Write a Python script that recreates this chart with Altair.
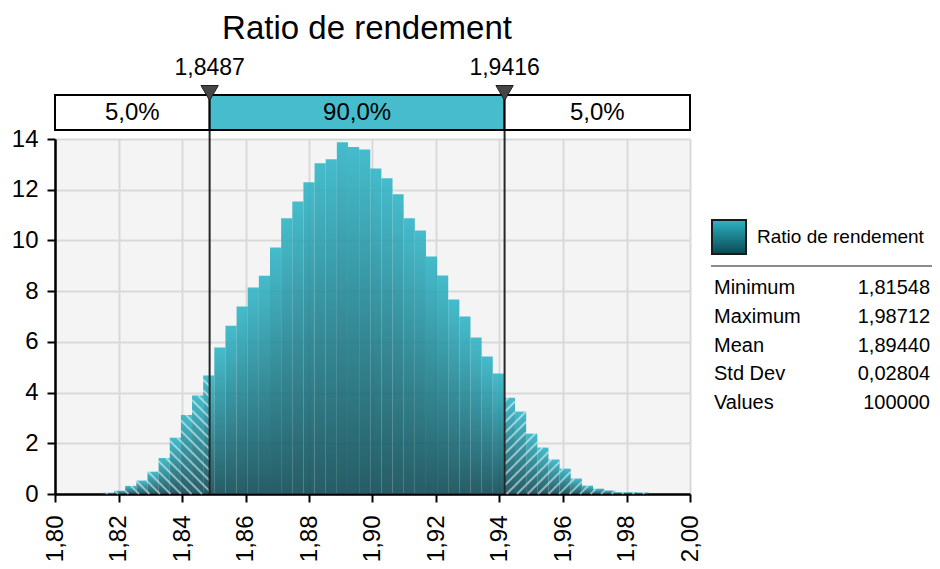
import altair as alt
import pandas as pd

# ---------------- data ----------------
title_text = "Ratio de rendement"
x_domain = [1.80, 2.00]
y_domain = [0, 14]
x_ticks = [1.80, 1.82, 1.84, 1.86, 1.88, 1.90, 1.92, 1.94, 1.96, 1.98, 2.00]
y_ticks = [0, 2, 4, 6, 8, 10, 12, 14]

bin_start = 1.8151
bin_width = 0.003508
heights = [0.05, 0.13, 0.32, 0.53, 0.88, 1.42, 2.22, 3.12, 3.88, 4.67,
           5.78, 6.64, 7.39, 8.14, 8.61, 9.72, 10.87, 11.54, 12.29, 13.04,
           13.20, 13.87, 13.68, 13.59, 12.84, 12.45, 11.82, 10.87, 10.39, 9.37,
           8.62, 7.67, 7.00, 6.17, 5.42, 4.75, 3.80, 3.25, 2.38, 1.83,
           1.36, 1.00, 0.61, 0.33, 0.21, 0.14, 0.07, 0.07, 0.06]

p_low = 1.8487
p_high = 1.9416
band_labels = ["5,0%", "90,0%", "5,0%"]

legend_label = "Ratio de rendement"
stat_names = ["Minimum", "Maximum", "Mean", "Std Dev", "Values"]
stat_values = ["1,81548", "1,98712", "1,89440", "0,02804", "100000"]

# ---------------- layout constants ----------------
W, H = 635, 355
FONT = "Liberation Sans"
px_x = W / (x_domain[1] - x_domain[0])
px_y = H / (y_domain[1] - y_domain[0])

bars = pd.DataFrame({
    "start": [bin_start + i * bin_width for i in range(len(heights))],
    "end": [bin_start + (i + 1) * bin_width for i in range(len(heights))],
    "h": heights,
    "zero": [0.0] * len(heights),
})

# hatch segments for the two 5% tails (derived from the bars)
def hatch(x_lo, x_hi, direction, spacing=10.5):
    segs = []
    for s, e, h in zip(bars["start"], bars["end"], bars["h"]):
        a, b = max(s, x_lo), min(e, x_hi)
        if a >= b:
            continue
        Xa, Xb, Hh = (a - x_domain[0]) * px_x, (b - x_domain[0]) * px_x, h * px_y
        k = -100
        while k < 200:
            c = k * spacing
            k += 1
            if direction == "back":
                lo, hi = max(Xa, c - Hh), min(Xb, c)
                if hi - lo > 0.5:
                    segs.append((lo, c - lo, hi, c - hi))
            else:
                lo, hi = max(Xa, c), min(Xb, c + Hh)
                if hi - lo > 0.5:
                    segs.append((lo, lo - c, hi, hi - c))
    return segs

segs = hatch(x_domain[0], p_low, "back") + hatch(p_high, x_domain[1], "fwd")
hatch_df = pd.DataFrame({
    "x1": [x_domain[0] + s[0] / px_x for s in segs],
    "y1": [s[1] / px_y for s in segs],
    "x2": [x_domain[0] + s[2] / px_x for s in segs],
    "y2": [s[3] / px_y for s in segs],
})

band_df = pd.DataFrame({
    "start": [x_domain[0], p_low, p_high],
    "end": [p_low, p_high, x_domain[1]],
    "mid": [(x_domain[0] + p_low) / 2, (p_low + p_high) / 2, (p_high + x_domain[1]) / 2],
    "label": band_labels,
    "fill": ["white", "#46bccc", "white"],
})

pct_df = pd.DataFrame({
    "p": [p_low, p_high],
    "label": [f"{p_low:.4f}".replace(".", ","), f"{p_high:.4f}".replace(".", ",")],
})

stats_df = pd.DataFrame({
    "row": list(range(len(stat_names))),
    "name": stat_names,
    "value": stat_values,
})

grad = alt.Gradient(
    gradient="linear",
    stops=[alt.GradientStop(offset=0, color="#2db4c6"),
           alt.GradientStop(offset=1, color="#0a4852")],
    x1=0, x2=0, y1=0, y2=1,
)

xscale = alt.Scale(domain=x_domain, nice=False, zero=False)
yscale = alt.Scale(domain=y_domain, nice=False)
xaxis = alt.Axis(values=x_ticks, title=None, labelAngle=270,
                 labelAlign="right", labelBaseline="middle",
                 labelExpr="replace(format(datum.value, '.2f'), '.', ',')",
                 labelFontSize=24, labelPadding=13, tickSize=8, grid=True)


def xenc(field):
    return alt.X(field, scale=xscale, axis=xaxis)


# ---------------- layers ----------------
bar_layer = alt.Chart(bars).mark_rect(fill=grad, fillOpacity=0.88).encode(
    x=xenc("start:Q"),
    x2="end:Q",
    y=alt.Y("h:Q", scale=yscale,
            axis=alt.Axis(values=y_ticks, title=None, format="d",
                          labelFontSize=24, labelPadding=9, tickSize=8)),
    y2="zero:Q",
)

hatch_layer = alt.Chart(hatch_df).mark_rule(color="white", strokeWidth=2, opacity=0.5).encode(
    x=xenc("x1:Q"),
    x2="x2:Q",
    y=alt.Y("y1:Q", scale=yscale, axis=None),
    y2="y2:Q",
)

band_rect = alt.Chart(band_df).mark_rect(stroke="black", strokeWidth=2).encode(
    x=xenc("start:Q"),
    x2="end:Q",
    y=alt.value(-44),
    y2=alt.value(-9),
    fill=alt.Fill("fill:N", scale=None),
)

band_text = alt.Chart(band_df).mark_text(fontSize=24, font=FONT, color="black",
                                         baseline="middle", align="center").encode(
    x=xenc("mid:Q"),
    y=alt.value(-26),
    text="label:N",
)

pct_rule = alt.Chart(pct_df).mark_rule(color="#262626", strokeWidth=2).encode(
    x=xenc("p:Q"),
    y=alt.value(-44),
    y2=alt.value(H),
)

pct_tri = alt.Chart(pct_df).mark_point(shape="triangle-down", filled=True, size=300,
                                       fill="#464646", stroke="#1e1e1e", strokeWidth=1,
                                       opacity=1).encode(
    x=xenc("p:Q"),
    y=alt.value(-46),
)

pct_text = alt.Chart(pct_df).mark_text(fontSize=23, font=FONT, color="black",
                                       baseline="middle", align="center").encode(
    x=xenc("p:Q"),
    y=alt.value(-71),
    text="label:N",
)

title_layer = alt.Chart(pd.DataFrame({"t": [title_text]})).mark_text(
    fontSize=33, font=FONT, color="black", baseline="middle", align="center").encode(
    x=alt.value(312), y=alt.value(-110), text="t:N")

legend_box = alt.Chart(pd.DataFrame({"t": [legend_label]})).mark_rect(
    fill=grad, stroke="#1a1a1a", strokeWidth=2).encode(
    x=alt.value(657), x2=alt.value(691), y=alt.value(81), y2=alt.value(115))

legend_text = alt.Chart(pd.DataFrame({"t": [legend_label]})).mark_text(
    fontSize=19, font=FONT, color="black", baseline="middle", align="left").encode(
    x=alt.value(702), y=alt.value(98), text="t:N")

legend_sep = alt.Chart(pd.DataFrame({"t": [legend_label]})).mark_rule(
    color="#8c8c8c", strokeWidth=2).encode(
    x=alt.value(656), x2=alt.value(877), y=alt.value(127))

stat_y = alt.Y("row:Q", scale=alt.Scale(domain=[0, 4], range=[149, 264]), axis=None)
stat_names_layer = alt.Chart(stats_df).mark_text(
    fontSize=20, font=FONT, color="black", baseline="middle", align="left").encode(
    x=alt.value(659), y=stat_y, text="name:N")
stat_values_layer = alt.Chart(stats_df).mark_text(
    fontSize=20, font=FONT, color="black", baseline="middle", align="right").encode(
    x=alt.value(875), y=stat_y, text="value:N")

chart = alt.layer(
    bar_layer, hatch_layer, pct_rule, band_rect, band_text, pct_tri, pct_text,
    title_layer, legend_box, legend_text, legend_sep, stat_names_layer, stat_values_layer,
).resolve_scale(y="independent").properties(
    width=W, height=H,
    autosize=alt.AutoSizeParams(type="none"),
    padding={"left": 47, "top": 131, "right": 242, "bottom": 67},
    background="white",
).configure(font=FONT).configure_view(
    fill="#f4f4f4", stroke="transparent"
).configure_axis(
    labelFont=FONT, labelColor="black", tickColor="black", tickWidth=2,
    domainColor="black", domainWidth=2.5, gridColor="#d9d9d9", gridWidth=2,
)

chart.save("out.html", embed_options={"renderer": "svg", "actions": False})
